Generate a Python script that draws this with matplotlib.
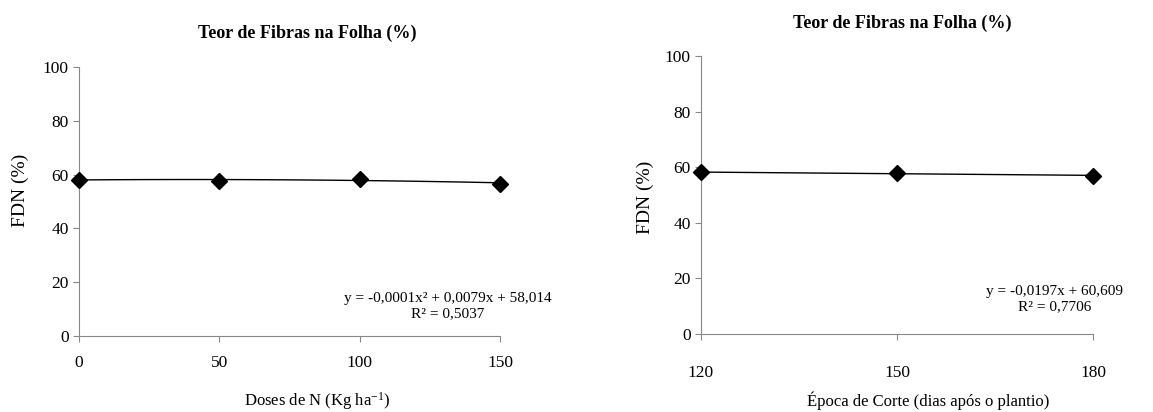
import numpy as np
import matplotlib
matplotlib.use("Agg")
import matplotlib.pyplot as plt

plt.rcParams['font.family'] = ['Liberation Serif', 'DejaVu Serif']
plt.rcParams['mathtext.fontset'] = 'custom'
plt.rcParams['mathtext.rm'] = 'Liberation Serif'
plt.rcParams['mathtext.it'] = 'Liberation Serif:italic'

# left chart: doses of N
doses = [0, 50, 100, 150]
fdn_doses = [58.1, 57.5, 58.4, 56.6]
coef_doses = [-0.0001, 0.0079, 58.014]   # quadratic trend shown on chart
eq_doses = "y = -0,0001x² + 0,0079x + 58,014\nR² = 0,5037"

# right chart: cutting time
epocas = [120, 150, 180]
fdn_epocas = [58.2, 58.0, 57.0]
coef_epocas = [-0.0197, 60.609]          # linear trend shown on chart
eq_epocas = "y = -0,0197x + 60,609\nR² = 0,7706"

W, H = 1153, 412
fig = plt.figure(figsize=(W / 100, H / 100), dpi=100)


def px_axes(x0, x1, ytop, ybot):
    return fig.add_axes([x0 / W, 1 - ybot / H, (x1 - x0) / W, (ybot - ytop) / H])


def style(ax, xpad):
    for s in ['top', 'right']:
        ax.spines[s].set_visible(False)
    for s in ['left', 'bottom']:
        ax.spines[s].set_color('#888888')
        ax.spines[s].set_linewidth(0.8)
    ax.tick_params(colors='#888888', labelcolor='black', labelsize=12.5, length=4, width=0.8)
    ax.tick_params(axis='x', pad=xpad)
    ax.set_ylim(0, 100)
    ax.set_yticks([0, 20, 40, 60, 80, 100])


ax1 = px_axes(79, 500, 67, 336)
xs = np.linspace(doses[0], doses[-1], 100)
ax1.plot(xs, np.polyval(coef_doses, xs), color='black', lw=1.0, zorder=2)
ax1.plot(doses, fdn_doses, linestyle='none', marker='D', color='black', ms=8, zorder=3, clip_on=False)
ax1.set_xlim(0, 150)
ax1.set_xticks(doses)
style(ax1, 10)

ax2 = px_axes(701, 1093, 56, 334)
xs2 = np.linspace(epocas[0], epocas[-1], 100)
ax2.plot(xs2, np.polyval(coef_epocas, xs2), color='black', lw=1.0, zorder=2)
ax2.plot(epocas, fdn_epocas, linestyle='none', marker='D', color='black', ms=8, zorder=3, clip_on=False)
ax2.set_xlim(120, 180)
ax2.set_xticks(epocas)
style(ax2, 18)

# titles
fig.text(307 / W, 1 - 33 / H, "Teor de Fibras na Folha (%)", ha='center', va='center',
         fontsize=13, fontweight='bold')
fig.text(902 / W, 1 - 23 / H, "Teor de Fibras na Folha (%)", ha='center', va='center',
         fontsize=13, fontweight='bold')

# axis labels
fig.text(317 / W, 1 - 401 / H, "Doses de N (Kg ha$^{-1}$)", ha='center', va='center', fontsize=12)
fig.text(928 / W, 1 - 401 / H, "Época de Corte (dias após o plantio)", ha='center', va='center', fontsize=12)
fig.text(20 / W, 1 - 190 / H, "FDN (%)", ha='center', va='center', rotation=90, fontsize=14)
fig.text(645 / W, 1 - 197 / H, "FDN (%)", ha='center', va='center', rotation=90, fontsize=14)

# equations
fig.text(448 / W, 1 - 306 / H, eq_doses, ha='center', va='center', fontsize=11, linespacing=1.15)
fig.text(1055 / W, 1 - 299 / H, eq_epocas, ha='center', va='center', fontsize=11, linespacing=1.15)

fig.savefig("out.png", dpi=100)
